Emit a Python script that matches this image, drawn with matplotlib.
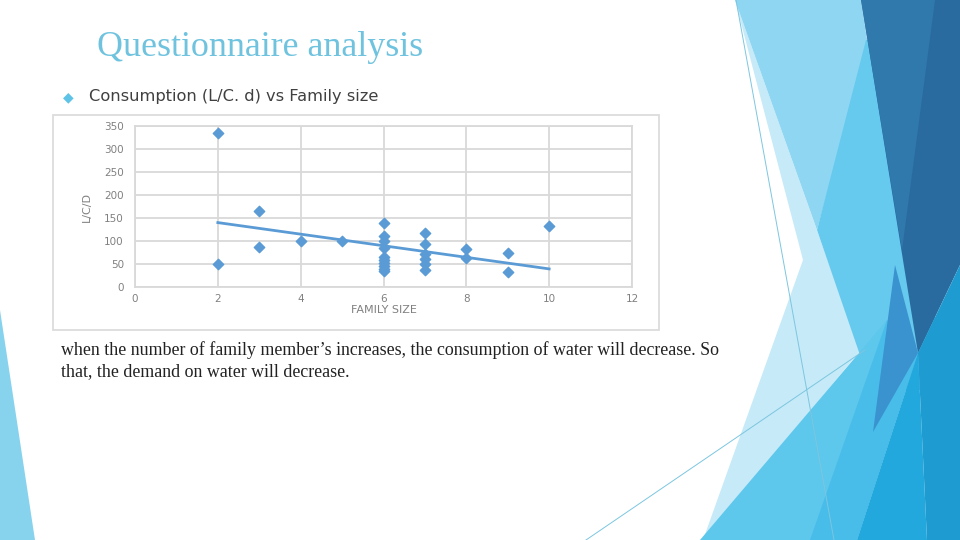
import matplotlib
matplotlib.use("Agg")
import matplotlib.pyplot as plt
import numpy as np
from matplotlib.patches import Polygon, Rectangle

# ---- data ----
family_size = [2, 2, 3, 3, 4, 5,
               6, 6, 6, 6, 6, 6, 6, 6, 6, 6,
               7, 7, 7, 7, 7, 7,
               8, 8, 9, 9, 10]
consumption = [335, 50, 165, 88, 100, 100,
               139, 111, 100, 84, 65, 58, 52, 46, 40, 35,
               118, 94, 72, 61, 50, 37,
               83, 62, 73, 33, 133]
x_ticks = [0, 2, 4, 6, 8, 10, 12]
y_ticks = [0, 50, 100, 150, 200, 250, 300, 350]

title = "Questionnaire analysis"
bullet_text = "Consumption (L/C. d) vs Family size"
body_text = ("when the number of family member\u2019s increases, the consumption of water will decrease. So\n"
             "that, the demand on water will decrease.")

W, H = 960, 540
fig = plt.figure(figsize=(9.6, 5.4), dpi=100)
fig.patch.set_facecolor("white")


def P(x, y):
    return (x / W, 1 - y / H)


def poly(pts, color, z=0):
    fig.add_artist(Polygon([P(*p) for p in pts], closed=True, facecolor=color,
                           edgecolor="none", zorder=z, transform=fig.transFigure))


# ---- decorative background shapes (right side) ----
poly([(735, 0), (860, 351), (703, 540), (803, 260)], "#c6eaf8")
poly([(735, 0), (861, 0), (868, 45), (817, 230)], "#8fd6f2")
poly([(866, 40), (817, 230), (872, 390), (935, 390), (935, 40)], "#66c9ee")
poly([(861, 0), (960, 0), (960, 265), (918, 353)], "#2a6b9f")
poly([(861, 0), (935, 0), (902, 250)], "#3079ad")
poly([(700, 540), (887, 320), (918, 353), (857, 540)], "#5ec7ec")
poly([(887, 320), (918, 353), (857, 540), (810, 540)], "#48bde9")
poly([(918, 353), (927, 540), (857, 540)], "#23a8dd")
poly([(918, 353), (960, 265), (960, 540), (927, 540)], "#1e9bd0")
poly([(895, 265), (918, 353), (873, 432)], "#3a92cf")
poly([(0, 310), (0, 540), (35, 540)], "#87d3ee")

# thin lines
fig.add_artist(plt.Line2D([736 / W, 834 / W], [1, 0], color="#7cc6e0",
                          lw=0.7, transform=fig.transFigure, zorder=1))
fig.add_artist(plt.Line2D([586 / W, 865 / W], [0, 1 - 350 / H], color="#7cc6e0",
                          lw=0.7, transform=fig.transFigure, zorder=1))

# ---- titles / text ----
fig.text(97 / W, 1 - 47 / H, title, family="Liberation Serif", fontsize=25.9,
         color="#6fc3df", va="center", ha="left")
fig.text(68 / W, 1 - 97 / H, "\u25c6", fontsize=10, color="#5ec3e6",
         va="center", ha="center")
fig.text(89 / W, 1 - 97 / H, bullet_text, family="DejaVu Sans", fontsize=11.7,
         color="#404040", va="center", ha="left")
fig.text(61 / W, 1 - 361 / H, body_text, family="Liberation Serif", fontsize=12.9,
         color="#222222", va="center", ha="left", linespacing=1.3)

# ---- chart box ----
fig.add_artist(Rectangle(P(53, 330), 606 / W, 215 / H, transform=fig.transFigure,
                         facecolor="white", edgecolor="#d9d9d9", lw=1.2, zorder=2))

ax = fig.add_axes([135 / W, 1 - 287 / H, (632 - 135) / W, (287 - 126) / H], zorder=3)
ax.set_facecolor("white")
ax.set_xlim(0, 12)
ax.set_ylim(0, 350)
ax.set_xticks(x_ticks)
ax.set_yticks(y_ticks)
ax.grid(True, color="#d9d9d9", lw=1.3)
ax.set_axisbelow(True)
for s in ax.spines.values():
    s.set_color("#d9d9d9")
    s.set_linewidth(1.3)
ax.tick_params(length=0, labelsize=7.5, labelcolor="#808080")
ax.tick_params(axis="x", pad=5)
ax.tick_params(axis="y", pad=8)

ax.scatter(family_size, consumption, marker="D", s=28, color="#5b9bd5",
           edgecolors="#5b9bd5", zorder=4)
coef = np.polyfit(family_size, consumption, 1)
xs = np.array([min(family_size), max(family_size)])
ax.plot(xs, np.polyval(coef, xs), color="#5b9bd5", lw=2, zorder=3)

ax.set_xlabel("FAMILY SIZE", fontsize=8, color="#808080", labelpad=1)
ax.set_ylabel("L/C/D", fontsize=8, color="#808080", labelpad=9)

fig.savefig("out.png", dpi=100, facecolor="white")
